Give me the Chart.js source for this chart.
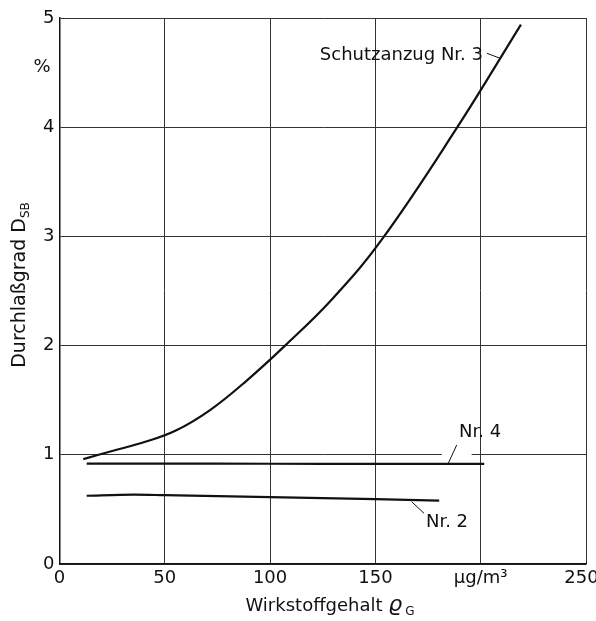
<!DOCTYPE html>
<html>
<head>
<meta charset="utf-8">
<script src="https://cdn.jsdelivr.net/npm/chart.js@4.4.0/dist/chart.umd.min.js"></script>
<style>
  html, body { margin: 0; padding: 0; background: #fff; }
  #wrap { width: 596px; height: 621px; }
</style>
</head>
<body>
<div id="wrap"><canvas id="chart"></canvas></div>
<script>
// Werte
const xNr3 = [11.3, 25, 40, 55, 71.5, 88.9, 107.1, 129.2, 153, 188.9, 219.1];
const yNr3 = [0.96, 1.035, 1.115, 1.22, 1.41, 1.68, 2.0, 2.42, 2.97, 4.0, 4.94];

const xNr4 = [12.9, 50, 100, 150, 201.7];
const yNr4 = [0.92, 0.92, 0.918, 0.917, 0.916];

const xNr2 = [12.9, 35, 50, 100, 150, 180.3];
const yNr2 = [0.625, 0.635, 0.63, 0.612, 0.595, 0.58];

const xTicks = [0, 50, 100, 150, 200, 250];
const xTickLabels = ['0', '50', '100', '150', 'μg/m³', '250\u2002'];
const yTicks = [0, 1, 2, 3, 4, 5];

const FONT = '"DejaVu Sans", sans-serif';

function toPoints(xs, ys) {
  return xs.map((x, i) => ({ x: x, y: ys[i] }));
}

function lineSet(label, xs, ys, tension) {
  return {
    label: label,
    data: toPoints(xs, ys),
    borderColor: '#111',
    borderWidth: 2.2,
    pointRadius: 0,
    fill: false,
    tension: tension
  };
}

// Beschriftungen, Hinweislinien und Achsentitel
const beschriftung = {
  id: 'beschriftung',
  beforeDatasetsDraw(chart) {
    const ctx = chart.ctx;
    const xs = chart.scales.x, ys = chart.scales.y;
    // Luecke in der Gitterlinie bei 1 fuer "Nr. 4"
    ctx.save();
    ctx.fillStyle = '#fff';
    ctx.fillRect(xs.getPixelForValue(181.5), ys.getPixelForValue(1) - 2, xs.getPixelForValue(195.7) - xs.getPixelForValue(181.5), 4);
    ctx.restore();
  },
  afterDatasetsDraw(chart) {
    const ctx = chart.ctx;
    const xs = chart.scales.x, ys = chart.scales.y;
    const px = v => xs.getPixelForValue(v);
    const py = v => ys.getPixelForValue(v);

    ctx.save();
    ctx.fillStyle = '#111';
    ctx.strokeStyle = '#111';
    ctx.lineWidth = 1;
    ctx.font = '18px ' + FONT;
    ctx.textBaseline = 'middle';

    ctx.textAlign = 'right';
    ctx.fillText('Schutzanzug Nr. 3', px(201.1), py(4.66));
    ctx.textAlign = 'left';
    ctx.fillText('Nr. 4', px(189.7), py(1.21));
    ctx.fillText('Nr. 2', px(174.0), py(0.385));

    const leader = (x1, y1, x2, y2) => {
      ctx.beginPath();
      ctx.moveTo(px(x1), py(y1));
      ctx.lineTo(px(x2), py(y2));
      ctx.stroke();
    };
    leader(203.0, 4.677, 209.2, 4.631);
    leader(188.6, 1.09, 184.6, 0.922);
    leader(167.2, 0.571, 173.1, 0.464);

    // Prozentzeichen
    ctx.textAlign = 'center';
    ctx.fillText('%', 42, 67);

    // x-Achsentitel
    ctx.textAlign = 'left';
    ctx.textBaseline = 'alphabetic';
    const t1 = 'Wirkstoffgehalt ';
    ctx.font = '18px ' + FONT;
    let w1 = ctx.measureText(t1).width;
    ctx.font = 'italic 22px ' + FONT;
    let w2 = ctx.measureText('ϱ').width;
    ctx.font = '12px ' + FONT;
    let w3 = ctx.measureText('G').width;
    let x0 = 330 - (w1 + w2 + 3 + w3) / 2;
    ctx.font = '18px ' + FONT;
    ctx.fillText(t1, x0, 611);
    ctx.font = 'italic 22px ' + FONT;
    ctx.fillText('ϱ', x0 + w1, 611);
    ctx.font = '12px ' + FONT;
    ctx.fillText('G', x0 + w1 + w2 + 3, 615);

    // y-Achsentitel
    ctx.translate(25, 285);
    ctx.rotate(-Math.PI / 2);
    ctx.font = '19px ' + FONT;
    const s1 = 'Durchlaßgrad D';
    const a = ctx.measureText(s1).width;
    ctx.font = '12px ' + FONT;
    const b = ctx.measureText('SB').width;
    const start = -(a + b) / 2;
    ctx.font = '19px ' + FONT;
    ctx.fillText(s1, start, 0);
    ctx.font = '12px ' + FONT;
    ctx.fillText('SB', start + a, 4);
    ctx.restore();
  }
};

new Chart(document.getElementById('chart'), {
  type: 'line',
  data: {
    datasets: [
      lineSet('Schutzanzug Nr. 3', xNr3, yNr3, 0.4),
      lineSet('Nr. 4', xNr4, yNr4, 0.2),
      lineSet('Nr. 2', xNr2, yNr2, 0.3)
    ]
  },
  options: {
    responsive: true,
    maintainAspectRatio: false,
    animation: false,
    layout: { padding: { top: 18, right: 10, left: 0, bottom: 0 } },
    plugins: {
      legend: { display: false },
      tooltip: { enabled: false }
    },
    scales: {
      x: {
        type: 'linear',
        min: 0,
        max: 250,
        afterBuildTicks: s => { s.ticks = xTicks.map(v => ({ value: v })); },
        afterFit: s => { s.height = 57; s.paddingLeft = 0; s.paddingRight = 0; },
        ticks: {
          color: '#111',
          font: { family: FONT, size: 18 },
          padding: 4,
          maxRotation: 0,
          autoSkip: false,
          callback: (v, i) => xTickLabels[xTicks.indexOf(v)]
        },
        grid: { color: '#333', lineWidth: 1, drawTicks: false },
        border: { color: '#111', width: 1.5 }
      },
      y: {
        min: 0,
        max: 5,
        afterBuildTicks: s => { s.ticks = yTicks.map(v => ({ value: v })); },
        afterFit: s => { s.width = 59.5; s.paddingTop = 0; s.paddingBottom = 0; },
        ticks: {
          color: '#111',
          font: { family: FONT, size: 18 },
          padding: 5
        },
        grid: { color: '#333', lineWidth: 1, drawTicks: false },
        border: { color: '#111', width: 1.5 }
      }
    }
  },
  plugins: [beschriftung]
});
</script>
</body>
</html>
